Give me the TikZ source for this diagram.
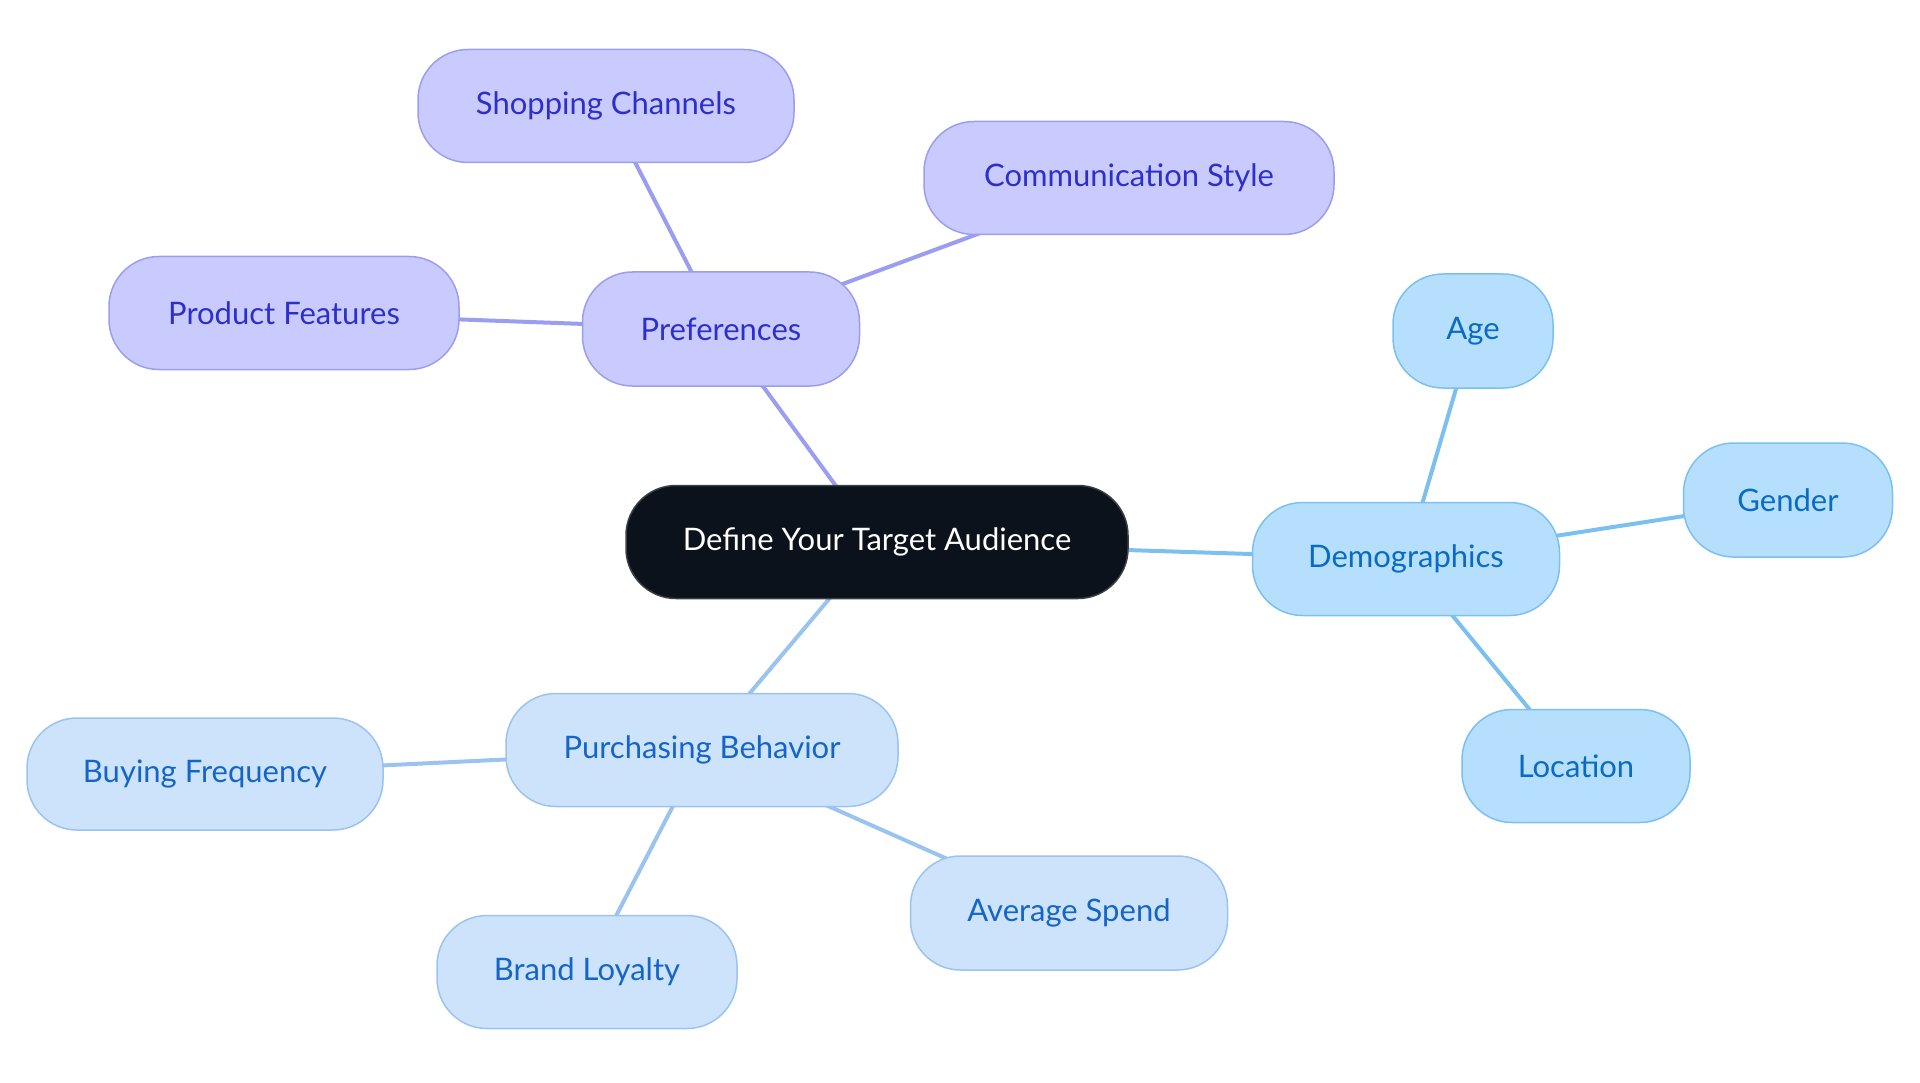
\documentclass[tikz,border=0pt]{standalone}
\usepackage{fontspec}
\setmainfont{Lato}
\usetikzlibrary{backgrounds}
\definecolor{prefFill}{HTML}{C9CAFD}
\definecolor{prefLine}{HTML}{9B9EF0}
\definecolor{prefText}{HTML}{2E2FCB}
\definecolor{demoFill}{HTML}{B5DFFD}
\definecolor{demoLine}{HTML}{7CC0F0}
\definecolor{demoText}{HTML}{0A6BC2}
\definecolor{purFill}{HTML}{CDE3FB}
\definecolor{purLine}{HTML}{9BC3F0}
\definecolor{purText}{HTML}{1565C8}
\definecolor{rootFill}{HTML}{0B121B}
\definecolor{rootLine}{HTML}{3A3F45}
\tikzset{
  box/.style={rounded corners=50pt, line width=1.5pt, inner sep=0pt, align=center,
    font=\fontsize{31}{35}\selectfont},
  rootbox/.style={box, fill=rootFill, draw=rootLine, text=white},
  prefbox/.style={box, fill=prefFill, draw=prefLine, text=prefText},
  demobox/.style={box, fill=demoFill, draw=demoLine, text=demoText},
  purbox/.style={box, fill=purFill, draw=purLine, text=purText},
  prefedge/.style={draw=prefLine, line width=4pt},
  demoedge/.style={draw=demoLine, line width=4pt},
  puredge/.style={draw=purLine, line width=4pt},
}
\begin{document}
\begin{tikzpicture}[x=1pt,y=-1pt]
\useasboundingbox (0,0) rectangle (1920,1083);
\node[rootbox, minimum width=502pt, minimum height=113pt] (root) at (877,542) {Define Your Target Audience};
\node[prefbox, minimum width=277pt, minimum height=114pt] (pref) at (721,329) {Preferences};
\node[prefbox, minimum width=376pt, minimum height=113pt] (shop) at (606,106) {Shopping Channels};
\node[prefbox, minimum width=410pt, minimum height=113pt] (comm) at (1129,178) {Communication Style};
\node[prefbox, minimum width=350pt, minimum height=113pt] (prod) at (284,313) {Product Features};
\node[demobox, minimum width=307pt, minimum height=113pt] (demo) at (1406,559) {Demographics};
\node[demobox, minimum width=160pt, minimum height=114pt] (age) at (1473,331) {Age};
\node[demobox, minimum width=209pt, minimum height=114pt] (gender) at (1788,500) {Gender};
\node[demobox, minimum width=228pt, minimum height=113pt] (loc) at (1576,766) {Location};
\node[purbox, minimum width=392pt, minimum height=113pt] (pur) at (702,750) {Purchasing Behavior};
\node[purbox, minimum width=356pt, minimum height=112pt] (buy) at (205,774) {Buying Frequency};
\node[purbox, minimum width=300pt, minimum height=113pt] (brand) at (587,972) {Brand Loyalty};
\node[purbox, minimum width=317pt, minimum height=114pt] (avg) at (1069,913) {Average Spend};
\begin{scope}[on background layer]
\draw[prefedge] (root.center) -- (pref.center);
\draw[prefedge] (pref.center) -- (shop.center);
\draw[prefedge] (pref.center) -- (comm.center);
\draw[prefedge] (pref.center) -- (prod.center);
\draw[demoedge] (root.center) -- (demo.center);
\draw[demoedge] (demo.center) -- (age.center);
\draw[demoedge] (demo.center) -- (gender.center);
\draw[demoedge] (demo.center) -- (loc.center);
\draw[puredge] (root.center) -- (pur.center);
\draw[puredge] (pur.center) -- (buy.center);
\draw[puredge] (pur.center) -- (brand.center);
\draw[puredge] (pur.center) -- (avg.center);
\end{scope}
\end{tikzpicture}
\end{document}
